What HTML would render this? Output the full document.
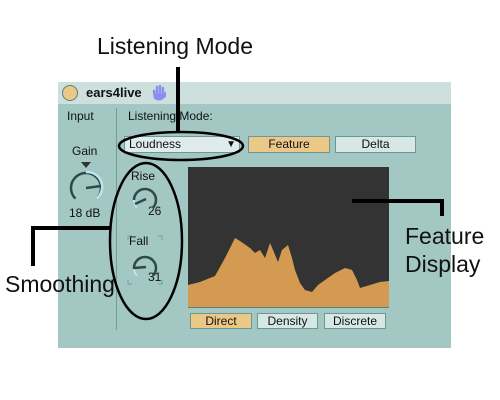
<!DOCTYPE html>
<html><head><style>
body{margin:0;width:500px;height:400px;background:#fff;position:relative;overflow:hidden;font-family:"Liberation Sans",sans-serif}
.a{position:absolute}
.btn{position:absolute;border:1px solid #6a9894;font-size:12px;text-align:center;line-height:15px;color:#111;box-sizing:border-box}
.big{position:absolute;font-size:23px;color:#111;font-family:"Liberation Sans",sans-serif}
.s{position:absolute;font-size:12px;color:#111}
</style></head><body>
<div class="a" style="left:58px;top:82px;width:393px;height:22px;background:#cde0dd"></div>
<div class="a" style="left:58px;top:104px;width:393px;height:244px;background:#a3c8c4"></div>
<div class="a" style="left:62px;top:85px;width:14px;height:14px;border-radius:50%;background:#e9c985;border:1px solid #5e7f7a"></div>
<div class="s" style="left:86px;top:85px;font-weight:bold;font-size:13px">ears4live</div>
<svg class="a" style="left:152px;top:85px" width="14" height="16"><path d="M3 13 L2 6 M5 12 L5 2 M8 12 L8 1 M11 12 L11 3 M12 12 L14 8" stroke="#8a8ef0" stroke-width="2.5" stroke-linecap="round"/><ellipse cx="7" cy="12" rx="5" ry="3.5" fill="#8a8ef0"/></svg>
<div class="s" style="left:67px;top:109px">Input</div>
<div class="s" style="left:128px;top:109px">Listening Mode:</div>
<div class="a" style="left:116px;top:108px;width:1px;height:222px;background:#6f9e99"></div>
<div class="s" style="left:72px;top:144px">Gain</div>
<div class="s" style="left:69px;top:206px">18 dB</div>
<div class="s" style="left:131px;top:169px">Rise</div>
<div class="s" style="left:148px;top:204px">26</div>
<div class="s" style="left:129px;top:234px">Fall</div>
<div class="s" style="left:148px;top:270px">31</div>
<div class="btn" style="left:124px;top:136px;width:116px;height:17px;background:#dfeceb;text-align:left;padding-left:4px">Loudness<span style="position:absolute;right:3px;font-size:10px">▼</span></div>
<div class="btn" style="left:248px;top:136px;width:82px;height:17px;background:#ebc888">Feature</div>
<div class="btn" style="left:335px;top:136px;width:81px;height:17px;background:#d6e7e5">Delta</div>
<div class="btn" style="left:190px;top:313px;width:62px;height:16px;background:#ebc888">Direct</div>
<div class="btn" style="left:257px;top:313px;width:61px;height:16px;background:#d6e7e5">Density</div>
<div class="btn" style="left:324px;top:313px;width:62px;height:16px;background:#d6e7e5">Discrete</div>
<svg class="a" style="left:0;top:0" width="500" height="400">
<rect x="188" y="167" width="201" height="141" fill="#333"/>
<polygon fill="#d49a52" points="188,308 188,285 200,282 215,276 225,258 235,238 240,241 250,248 255,253 260,250 265,258 270,243 273,250 278,262 282,250 288,245 292,258 295,270 300,283 305,290 312,292 318,285 325,280 335,273 345,268 352,270 357,280 360,288 370,285 380,282 389,281 389,308"/>
<line x1="188" y1="307.5" x2="389" y2="307.5" stroke="#5a7f7a"/>
<path d="M75.4 198.6 A15 15 0 1 1 96.6 198.6" fill="none" stroke="#2e4a47" stroke-width="2.5"/>
<path d="M86 172 A15 15 0 0 1 96.6 198.6" fill="none" stroke="#bfe4f0" stroke-width="2.5"/>
<line x1="86" y1="188" x2="101" y2="186" stroke="#2e4a47" stroke-width="2.5"/>
<polygon points="81,162 91,162 86,168" fill="#333"/>
<path d="M137.2 207.8 A11 11 0 1 1 152.8 207.8" fill="none" stroke="#2e4a47" stroke-width="2.5"/>
<path d="M134 200 A11 11 0 0 0 137.2 207.8" fill="none" stroke="#bfe4f0" stroke-width="2.5"/>
<line x1="135" y1="204" x2="146" y2="199" stroke="#2e4a47" stroke-width="2.5"/>
<path d="M137.2 275.8 A11 11 0 1 1 152.8 275.8" fill="none" stroke="#2e4a47" stroke-width="2.5"/>
<path d="M134 269 A11 11 0 0 0 137.2 275.8" fill="none" stroke="#bfe4f0" stroke-width="2.5"/>
<line x1="134" y1="268" x2="146" y2="267" stroke="#2e4a47" stroke-width="2.5"/>
<path d="M128 240 v-4 h4 M158 236 h4 v4 M128 280 v4 h4 M162 280 v4 h-4" fill="none" stroke="#6f9e99"/>
<line x1="178" y1="67" x2="178" y2="132" stroke="#000" stroke-width="4"/>
<ellipse cx="181" cy="146" rx="62" ry="14" fill="none" stroke="#000" stroke-width="2.5"/>
<ellipse cx="146" cy="241" rx="36" ry="78" fill="none" stroke="#000" stroke-width="2.5"/>
<polyline points="110,228 33,228 33,266" fill="none" stroke="#000" stroke-width="4"/>
<polyline points="352,201 442,201 442,216" fill="none" stroke="#000" stroke-width="4"/>
</svg>
<div class="big" style="left:97px;top:33px">Listening Mode</div>
<div class="big" style="left:5px;top:271px">Smoothing</div>
<div class="big" style="left:405px;top:223px">Feature</div>
<div class="big" style="left:405px;top:251px">Display</div>
</body></html>
